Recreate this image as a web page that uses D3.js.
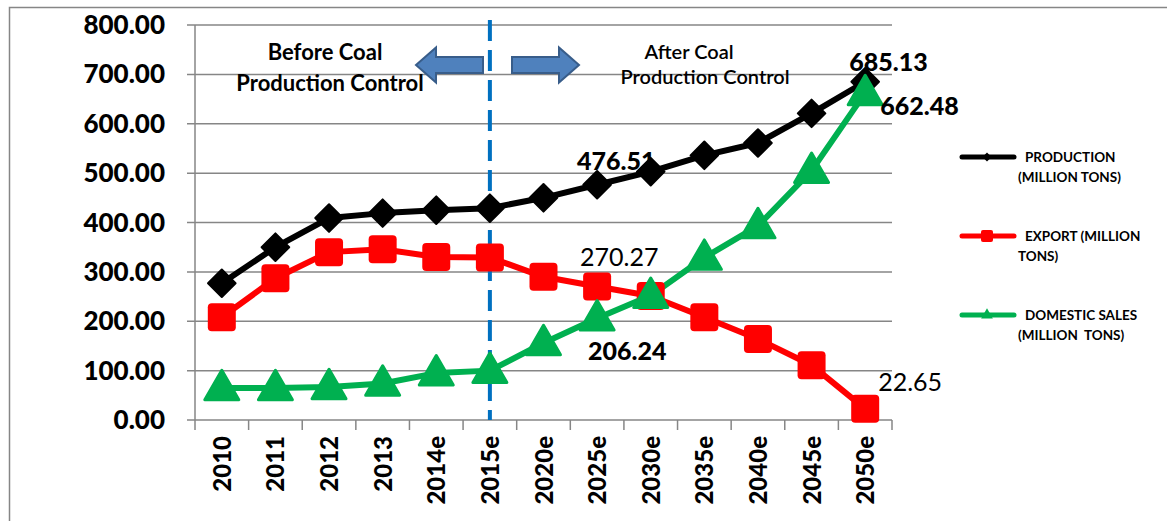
<!DOCTYPE html>
<html><head><meta charset="utf-8">
<script src="https://cdn.jsdelivr.net/npm/d3@7"></script>
<style>body{margin:0;background:#fff}svg{display:block}text{font-family:Lato,"Open Sans",sans-serif;white-space:pre}</style>
</head><body><div id="c"></div>
<script>
const categories=["2010","2011","2012","2013","2014e","2015e","2020e","2025e","2030e","2035e","2040e","2045e","2050e"];
const production=[277,350,409,419,425,429,450,476.51,503,536,561,621,685.13];
const exportVals=[208,287,340,346,330,329,290,270.27,251,208,164,111,22.65];
const domestic=[65,65,67,74,95,100,156,206.24,252,329,393,505,662.48];
const yTicks=[0,100,200,300,400,500,600,700,800];
const seriesNames=[["PRODUCTION","(MILLION TONS)"],["EXPORT (MILLION","TONS)"],["DOMESTIC SALES","(MILLION  TONS)"]];
const colors=["#000000","#FF0000","#00B050"];

const W=1167,H=521;
const svg=d3.select("#c").append("svg").attr("width",W).attr("height",H);
svg.append("rect").attr("x",9.5).attr("y",7.5).attr("width",W+20).attr("height",H+20).attr("fill","none").attr("stroke","#868686").attr("stroke-width",1.5);

const x=d3.scaleBand().domain(categories).range([195,892]);
const y=d3.scaleLinear().domain([0,800]).range([420,25]);
const cx=d=>x(d)+x.bandwidth()/2;

svg.append("g").selectAll("line").data(yTicks).join("line")
 .attr("x1",187).attr("x2",892).attr("y1",d=>y(d)).attr("y2",d=>y(d))
 .attr("stroke","#868686").attr("stroke-width",1.5);
svg.append("line").attr("x1",195).attr("x2",195).attr("y1",y(800)).attr("y2",y(0)+10).attr("stroke","#868686").attr("stroke-width",1.5);
svg.append("g").selectAll("line").data(categories).join("line")
 .attr("x1",d=>x(d)+x.bandwidth()).attr("x2",d=>x(d)+x.bandwidth()).attr("y1",y(0)).attr("y2",y(0)+10)
 .attr("stroke","#868686").attr("stroke-width",1.5);
svg.append("g").selectAll("text").data(yTicks).join("text")
 .attr("x",165).attr("y",d=>y(d)+9).attr("text-anchor","end")
 .attr("font-size",26).attr("font-weight","900").text(d=>d.toFixed(2));
svg.append("g").selectAll("text").data(categories).join("text")
 .attr("transform",d=>`translate(${cx(d)+9},436) rotate(-90)`).attr("text-anchor","end")
 .attr("font-size",24).attr("font-weight","900").text(d=>d);

svg.append("line").attr("x1",cx("2015e")).attr("x2",cx("2015e")).attr("y1",20).attr("y2",y(0))
 .attr("stroke","#0070C0").attr("stroke-width",4).attr("stroke-dasharray","21,9");

function arrow(x0,dir){
  const pts=[[0,-8],[47,-8],[47,-17.5],[67,0],[47,17.5],[47,8],[0,8]];
  const p=pts.map(([a,b])=>[dir>0?x0+a:x0-a,65+b]);
  svg.append("polygon").attr("points",p.map(q=>q.join(",")).join(" "))
   .attr("fill","#4F81BD").attr("stroke","#385D8A").attr("stroke-width",2);
}
arrow(483,-1);arrow(512,1);

const ann=svg.append("g").attr("font-weight","bold").attr("text-anchor","middle");
ann.append("text").attr("x",325).attr("y",60).attr("font-size",22).text("Before Coal");
ann.append("text").attr("x",330).attr("y",91).attr("font-size",22).text("Production Control");
ann.append("text").attr("x",689).attr("y",59).attr("font-size",20).attr("font-weight","600").text("After Coal");
ann.append("text").attr("x",705).attr("y",84).attr("font-size",20).attr("font-weight","600").text("Production Control");

const line=d3.line().x((d,i)=>cx(categories[i])).y(d=>y(d));
const all=[production,exportVals,domestic];
all.forEach((s,k)=>{
  svg.append("path").datum(s).attr("d",line).attr("fill","none").attr("stroke",colors[k]).attr("stroke-width",6).attr("stroke-linejoin","round");
});
all.forEach((s,k)=>{
  const g=svg.append("g");
  if(k===1){
    g.selectAll("rect").data(s).join("rect")
     .attr("x",(d,i)=>cx(categories[i])-14).attr("y",d=>y(d)-14).attr("width",28).attr("height",28).attr("rx",4)
     .attr("fill",colors[k]);
  } else if(k===0){
    g.selectAll("path").data(s).join("path")
     .attr("d",d3.symbol().type(d3.symbolSquare).size(380)).attr("transform",(d,i)=>`translate(${cx(categories[i])},${y(d)}) rotate(45)`)
     .attr("fill",colors[k]).attr("stroke",colors[k]).attr("stroke-width",2).attr("stroke-linejoin","round");
  } else {
    g.selectAll("path").data(s).join("path")
     .attr("transform",(d,i)=>`translate(${cx(categories[i])},${y(d)+2})`)
     .attr("d",d3.symbol().type(d3.symbolTriangle).size(500))
     .attr("fill",colors[k]).attr("stroke",colors[k]).attr("stroke-width",3).attr("stroke-linejoin","round");
  }
});

const lab=svg.append("g").attr("font-size",25);
lab.append("text").attr("x",cx("2025e")-20).attr("y",y(476.51)-15).attr("font-weight","900").text("476.51");
lab.append("text").attr("x",cx("2050e")-16).attr("y",y(685.13)-11).attr("font-weight","900").text("685.13");
lab.append("text").attr("x",cx("2050e")+15).attr("y",y(662.48)+22).attr("font-weight","900").text("662.48");
lab.append("text").attr("x",cx("2025e")-17).attr("y",y(270.27)-21).text("270.27");
lab.append("text").attr("x",cx("2025e")-9).attr("y",y(206.24)+42).attr("font-weight","900").text("206.24");
lab.append("text").attr("x",cx("2050e")+13).attr("y",y(22.65)-18).text("22.65");

const lg=svg.append("g");
const ly=[157,236,315];
seriesNames.forEach((n,k)=>{
  lg.append("line").attr("x1",962).attr("x2",1014).attr("y1",ly[k]).attr("y2",ly[k]).attr("stroke",colors[k]).attr("stroke-width",5).attr("stroke-linecap","round");
  if(k===0) lg.append("path").attr("transform",`translate(987,${ly[k]}) rotate(45)`).attr("d",d3.symbol().type(d3.symbolSquare).size(40)).attr("fill",colors[k]);
  if(k===1) lg.append("rect").attr("x",981).attr("y",ly[k]-6).attr("width",12).attr("height",12).attr("rx",2).attr("fill",colors[k]);
  if(k===2) lg.append("path").attr("transform",`translate(987,${ly[k]})`).attr("d",d3.symbol().type(d3.symbolTriangle).size(60)).attr("fill",colors[k]);
  lg.append("text").attr("x",1025).attr("y",ly[k]+5).attr("font-size",13.5).attr("font-weight","bold").text(n[0]);
  lg.append("text").attr("x",1018).attr("y",ly[k]+25).attr("font-size",13.5).attr("font-weight","bold").text(n[1]);
});
</script></body></html>
